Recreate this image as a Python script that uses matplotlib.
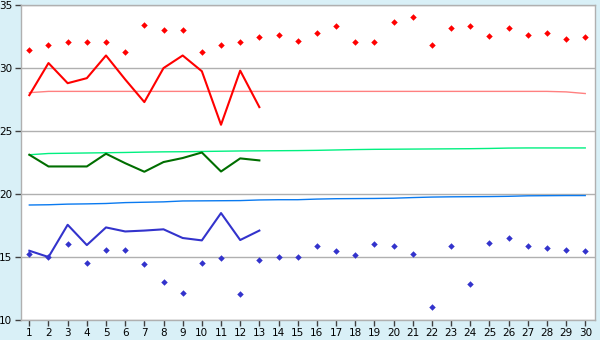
import numpy as np
import matplotlib.pyplot as plt

plt.switch_backend('Agg')

days = list(range(1, 31))

# daily max readings (red diamonds)
max_points = [31.4, 31.8, 32.05, 32.05, 32.05, 31.25, 33.4, 33.0, 33.0, 31.25,
              31.8, 32.05, 32.45, 32.6, 32.15, 32.8, 33.35, 32.05, 32.05, 33.65,
              34.05, 31.8, 33.15, 33.35, 32.55, 33.15, 32.6, 32.8, 32.3, 32.45]
# daily min readings (blue diamonds)
min_points = [15.25, 15.0, 16.05, 14.5, 15.55, 15.55, 14.45, 13.0, 12.15, 14.5,
              14.9, 12.05, 14.75, 15.0, 15.0, 15.85, 15.5, 15.15, 16.05, 15.85,
              15.25, 11.05, 15.85, 12.85, 16.1, 16.5, 15.85, 15.7, 15.55, 15.5]

# current month lines (first 13 days)
line_days = days[:13]
red_line = [27.85, 30.4, 28.8, 29.2, 31.0, 29.1, 27.3, 30.0, 31.0, 29.75, 25.5, 29.8, 26.9]
green_line = [23.12, 22.19, 22.19, 22.19, 23.2, 22.45, 21.77, 22.54, 22.86, 23.3, 21.79, 22.83, 22.67]
blue_line = [15.5, 15.0, 17.56, 15.95, 17.35, 17.03, 17.1, 17.2, 16.51, 16.32, 18.49, 16.35, 17.1]

# long-term average lines
red_avg = [28.05] + [28.15] * 27 + [28.11, 27.98]
green_avg = [23.12, 23.22, 23.24, 23.26, 23.28, 23.3, 23.33, 23.35, 23.36, 23.38,
             23.4, 23.42, 23.43, 23.44, 23.45, 23.47, 23.5, 23.53, 23.55, 23.56,
             23.57, 23.58, 23.59, 23.6, 23.62, 23.65, 23.66, 23.66, 23.66, 23.66]
blue_avg = [19.13, 19.15, 19.2, 19.22, 19.25, 19.32, 19.35, 19.38, 19.45, 19.46,
            19.47, 19.48, 19.53, 19.55, 19.55, 19.6, 19.63, 19.64, 19.65, 19.67,
            19.72, 19.76, 19.78, 19.79, 19.8, 19.82, 19.86, 19.87, 19.88, 19.88]

y_ticks = [10, 15, 20, 25, 30, 35]

bg = '#d9f0f7'
grid_col = '#b0b0b0'

fig = plt.figure(figsize=(6, 3.4), dpi=100, facecolor=bg)
ax = fig.add_axes([0.0345, 0.0588, 0.9575, 0.9262])
ax.set_facecolor('white')

ax.plot(days, red_avg, color='#ff8080', lw=1.0, zorder=2)
ax.plot(days, green_avg, color='#00f080', lw=1.0, zorder=2)
ax.plot(days, blue_avg, color='#0a7af0', lw=1.0, zorder=2)

ax.plot(line_days, red_line, color='#ff0000', lw=1.5, zorder=3)
ax.plot(line_days, green_line, color='#006e00', lw=1.5, zorder=3)
ax.plot(line_days, blue_line, color='#3333cc', lw=1.5, zorder=3)

ax.plot(days, max_points, ls='none', marker='D', ms=3.3, mew=0, color='#ff0000', zorder=4)
ax.plot(days, min_points, ls='none', marker='D', ms=3.3, mew=0, color='#3333cc', zorder=4)

ax.set_xlim(0.55, 30.52)
ax.set_ylim(10, 35)
ax.set_xticks(days)
ax.set_yticks(y_ticks)
ax.yaxis.grid(True, color=grid_col, lw=1.0)
ax.set_axisbelow(True)

for s in ax.spines.values():
    s.set_color(grid_col)
    s.set_linewidth(1.0)

ax.tick_params(axis='both', labelsize=7.5, length=4, width=1, color='#404040',
               labelcolor='black', pad=2)

plt.savefig('out.png', dpi=100, facecolor=bg)
